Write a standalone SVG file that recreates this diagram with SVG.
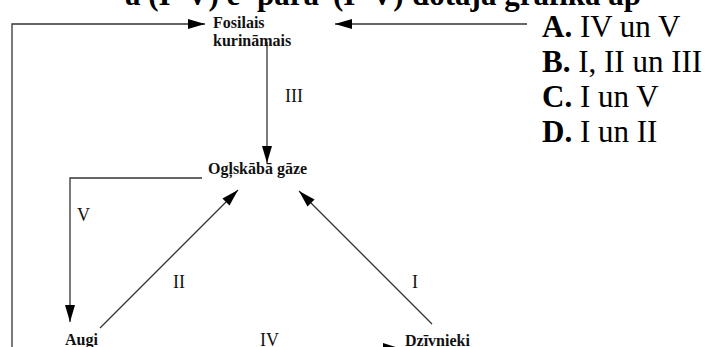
<svg xmlns="http://www.w3.org/2000/svg" width="708" height="347" viewBox="0 0 708 347">
<style>
.node{font-family:"Liberation Serif","DejaVu Serif",serif;font-weight:bold;font-size:16px;fill:#111}
.lbl{font-family:"Liberation Serif","DejaVu Serif",serif;font-size:18px;fill:#111}
.ans{font-family:"Liberation Serif","DejaVu Serif",serif;font-size:31px;fill:#000}
.title{font-family:"Liberation Serif","DejaVu Serif",serif;font-weight:bold;font-size:31px;fill:#000}
.edge{fill:none;stroke:#333;stroke-width:1.3}
</style>
<defs>
<marker id="ah" markerUnits="userSpaceOnUse" markerWidth="18" markerHeight="11" refX="17" refY="5" orient="auto">
<path d="M0,0 L17,5 L0,10 z" fill="#000"/>
</marker>
</defs>
<rect width="708" height="347" fill="#fff"/>
<text class="title" x="125" y="5">a (I–V) ē <tspan x="257">pārā</tspan> <tspan x="333">(I–V)</tspan> <tspan x="412">dotajā grafikā ap</tspan></text>
<g id="connectors">
<path class="edge" d="M12,347 V24 H205" marker-end="url(#ah)"/>
<path class="edge" d="M527,24 H335" marker-end="url(#ah)"/>
<path class="edge" d="M267,42 V163" marker-end="url(#ah)"/>
<path class="edge" d="M202,178 H70 V322" marker-end="url(#ah)"/>
<path class="edge" d="M100,328 L238,190" marker-end="url(#ah)"/>
<path class="edge" d="M432,324 L299,191" marker-end="url(#ah)"/>
<polygon points="383,343 405,350 383,357" fill="#000"/>
<text class="lbl" x="285" y="102">III</text>
<text class="lbl" x="77" y="221">V</text>
<text class="lbl" x="173" y="288">II</text>
<text class="lbl" x="412" y="288">I</text>
<text class="lbl" x="260" y="346">IV</text>
</g>
<g id="fosilais">
<text class="node" x="213" y="28">Fosilais</text>
<text class="node" x="213" y="46">kurināmais</text>
</g>
<g id="oglskaba">
<text class="node" x="208" y="174">Ogļskābā gāze</text>
</g>
<g id="augi">
<text class="node" x="65" y="345">Augi</text>
</g>
<g id="dzivnieki">
<text class="node" x="405" y="346">Dzīvnieki</text>
</g>
<g id="answers">
<text class="ans" x="542" y="37"><tspan font-weight="bold">A.</tspan> IV un V</text>
<text class="ans" x="542" y="72"><tspan font-weight="bold">B.</tspan> I, II un III</text>
<text class="ans" x="542" y="107"><tspan font-weight="bold">C.</tspan> I un V</text>
<text class="ans" x="542" y="142"><tspan font-weight="bold">D.</tspan> I un II</text>
</g>
</svg>
